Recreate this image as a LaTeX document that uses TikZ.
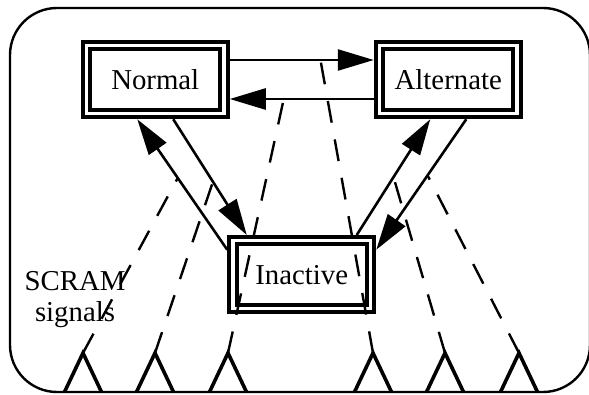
\documentclass[tikz,border=0pt]{standalone}
\usepackage{fontspec}
\setmainfont{Liberation Serif}
\usetikzlibrary{positioning,calc,arrows.meta}

\begin{document}
\begin{tikzpicture}[
x=0.5pt, y=-0.5pt,
node distance=72pt,
state/.style={
draw,
double,
line width=2pt,
double distance=1.75pt,
inner sep=0pt,
outer sep=2.875pt,
minimum width=68.75pt,
minimum height=34pt,
font=\fontsize{14.4}{17}\selectfont
},
arrow/.style={
-{Triangle[length=18pt,width=10.5pt]},
line width=1.3pt
},
signal/.style={
line width=1.2pt,
dash pattern=on 11pt off 8.5pt
},
sensor/.style={
line width=1.8pt,
line join=miter
}
]

\useasboundingbox (0,0) rectangle (589,395);

% Frame

\draw[line width=1.2pt, rounded corners=23.5pt] (10,8) rectangle (590,392);


% States

\node (normal) [state] at (155.25,79.5) {Normal};

\node (alternate) [state, right=of normal] {Alternate};

\node (inactive) [state, below=77.75pt of $(normal)!0.5!(alternate)$] {Inactive};


% Transitions

\draw[arrow] ([yshift=9.75pt]normal.east) -- coordinate[pos=0.63] (c4) ([yshift=9.75pt]alternate.west);
\draw[arrow] ([yshift=-9.75pt]alternate.west) -- coordinate[pos=0.625] (c3) ([yshift=-9.75pt]normal.east);

\draw[arrow] ([xshift=9pt]normal.south) -- coordinate[pos=0.54] (c2) ([xshift=-27.5pt]inactive.north);
\draw[arrow] ([yshift=12.5pt]inactive.west) -- coordinate[pos=0.55] (c1) ([xshift=-9pt]normal.south);

\draw[arrow] ([xshift=27.5pt]inactive.north) -- coordinate[pos=0.5] (c5) ([xshift=-9pt]alternate.south);
\draw[arrow] ([xshift=9pt]alternate.south) -- coordinate[pos=0.43] (c6) ([yshift=12.5pt]inactive.east);


% SCRAM signals

\node (label) [font=\fontsize{14.4}{15.5}\selectfont, align=center] at (75,300) {SCRAM\\signals};

\foreach \x/\i in {83/1,155/2,228/3,373/4,445/5,519/6} {
  \coordinate (s\i) at (\x,353);
  \draw[sensor] (\x-18.5,392) -- (s\i) -- (\x+18.5,392);
}

\foreach \i in {1,...,6}
  \draw[signal] (s\i) -- (c\i);

\end{tikzpicture}
\end{document}
